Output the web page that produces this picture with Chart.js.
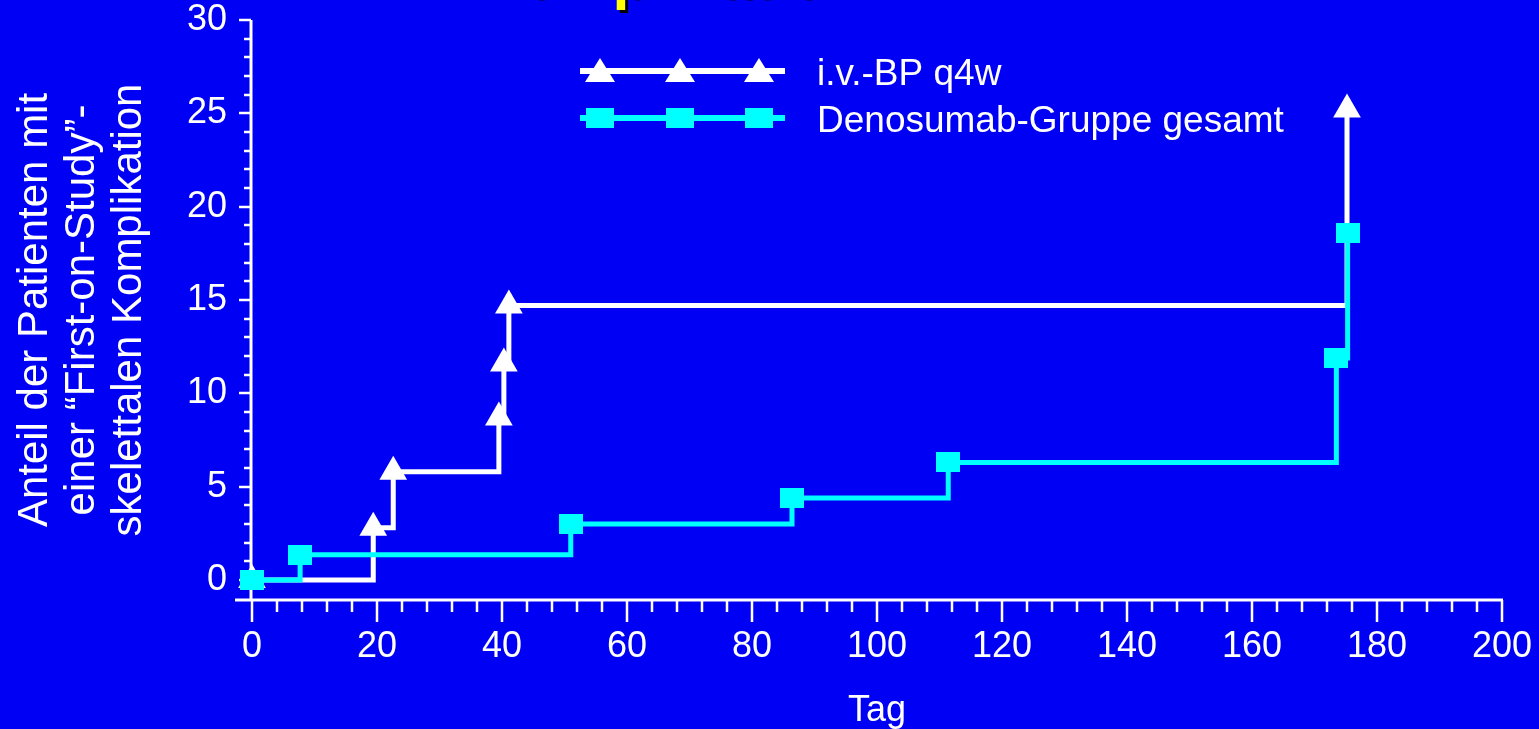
<!DOCTYPE html>
<html lang="de">
<head>
<meta charset="UTF-8">
<title>Zeit bis zur ersten skelettalen Komplikation</title>
<script src="https://cdn.jsdelivr.net/npm/chart.js@4.4.1/dist/chart.umd.min.js"></script>
<style>
  html, body { margin: 0; padding: 0; background: #0000f5; }
  #wrap { width: 1539px; height: 729px; position: relative; }
</style>
</head>
<body>
<div id="wrap"><canvas id="kmChart"></canvas></div>
<script>
// Werte (Tag / Anteil in %)
const seriesLabels = ['i.v.-BP q4w', 'Denosumab-Gruppe gesamt'];
const tageBP = [0, 19.4, 22.6, 39.5, 40.3, 41.1, 175.2];
const anteilBP = [0, 2.8, 5.8, 8.7, 11.6, 14.7, 25.2];
const tageDmab = [0, 7.7, 51.0, 86.4, 111.4, 173.5, 175.3];
const anteilDmab = [0, 1.35, 3.0, 4.4, 6.3, 11.9, 18.6];
const xTicks = [0, 20, 40, 60, 80, 100, 120, 140, 160, 180, 200];
const yTicks = [0, 5, 10, 15, 20, 25, 30];
const titleText = 'Komplikation';
const yTitle = ['Anteil der Patienten mit', 'einer \u201cFirst-on-Study\u201d-', 'skelettalen Komplikation'];
const xTitle = 'Tag';

const BLUE = '#0000f5';
const WHITE = '#ffffff';
const CYAN = '#00ffff';
const FONT = 'Arial, "Liberation Sans", sans-serif';

// square marker, a bit wider than high like in the slide
function squareMarker(w, h) {
  const c = document.createElement('canvas');
  c.width = w; c.height = h;
  const g = c.getContext('2d');
  g.fillStyle = CYAN;
  g.fillRect(0, 0, w, h);
  return c;
}
const sq = squareMarker(24, 20);

const toPoints = (xs, ys) => xs.map((x, i) => ({ x: x, y: ys[i] }));

// axes with major/minor ticks, legend and the cut-off slide title
const decoPlugin = {
  id: 'deco',
  beforeDraw(chart) {
    const ctx = chart.ctx;
    ctx.save();
    ctx.fillStyle = BLUE;
    ctx.fillRect(0, 0, chart.width, chart.height);
    ctx.restore();
  },
  beforeDatasetsDraw(chart) {
    const { ctx, scales: { x, y } } = chart;
    const ax = x.getPixelForValue(0) - 1;
    const ab = y.getPixelForValue(y.min);
    ctx.save();
    ctx.strokeStyle = WHITE;
    ctx.lineWidth = 3;
    ctx.beginPath();
    ctx.moveTo(ax, y.getPixelForValue(30));
    ctx.lineTo(ax, ab);
    ctx.moveTo(ax - 16, ab);
    ctx.lineTo(x.getPixelForValue(200) + 1, ab);
    ctx.stroke();
    ctx.lineWidth = 2.5;
    ctx.beginPath();
    for (let v = 0; v <= 30; v++) {
      const py = Math.round(y.getPixelForValue(v));
      const len = v % 5 === 0 ? 12 : 7;
      ctx.moveTo(ax - len, py);
      ctx.lineTo(ax, py);
    }
    for (let v = 0; v <= 200; v += 4) {
      const px = Math.round(x.getPixelForValue(v));
      const len = v % 20 === 0 ? 22 : 12;
      ctx.moveTo(px, ab);
      ctx.lineTo(px, ab + len);
    }
    ctx.stroke();
    ctx.restore();
  },
  afterDraw(chart) {
    const ctx = chart.ctx;
    ctx.save();
    // legend
    const rows = [
      { ds: chart.data.datasets[1], y: 71 },
      { ds: chart.data.datasets[0], y: 118 }
    ];
    rows.forEach(r => {
      ctx.strokeStyle = r.ds.borderColor;
      ctx.lineWidth = 6;
      ctx.beginPath();
      ctx.moveTo(580, r.y);
      ctx.lineTo(785, r.y);
      ctx.stroke();
      [600, 680, 759].forEach(mx => {
        ctx.fillStyle = r.ds.borderColor;
        if (r.ds.pointStyle === 'triangle') {
          ctx.beginPath();
          ctx.moveTo(mx, r.y - 13);
          ctx.lineTo(mx + 15, r.y + 11);
          ctx.lineTo(mx - 15, r.y + 11);
          ctx.closePath();
          ctx.fill();
        } else {
          ctx.fillRect(mx - 14, r.y - 10, 28, 20);
        }
      });
      ctx.fillStyle = WHITE;
      ctx.font = '37px ' + FONT;
      ctx.textAlign = 'left';
      ctx.textBaseline = 'alphabetic';
      ctx.fillText(r.ds.label, 817, r.y + 14);
    });
    // slide title, mostly outside the picture
    ctx.font = 'bold 61px ' + FONT;
    ctx.textAlign = 'left';
    ctx.textBaseline = 'alphabetic';
    ctx.fillStyle = '#000000';
    ctx.fillText(titleText, 480, 0);
    ctx.fillStyle = '#ffff00';
    ctx.fillText(titleText, 477, -3);
    ctx.restore();
  }
};

const chart = new Chart(document.getElementById('kmChart'), {
  type: 'line',
  data: {
    datasets: [
      {
        label: seriesLabels[1],
        data: toPoints(tageDmab, anteilDmab),
        borderColor: CYAN,
        backgroundColor: CYAN,
        borderWidth: 5,
        stepped: true,
        pointStyle: sq,
        clip: false,
        order: 0
      },
      {
        label: seriesLabels[0],
        data: toPoints(tageBP, anteilBP),
        borderColor: WHITE,
        backgroundColor: WHITE,
        borderWidth: 5,
        stepped: true,
        pointStyle: 'triangle',
        pointRadius: 16,
        pointBorderWidth: 0,
        clip: false,
        order: 1
      }
    ]
  },
  options: {
    responsive: true,
    maintainAspectRatio: false,
    animation: false,
    layout: { padding: { top: 20, right: 37, left: 0, bottom: 0 } },
    plugins: {
      legend: { display: false },
      tooltip: { enabled: false }
    },
    scales: {
      x: {
        type: 'linear',
        min: 0,
        max: 200,
        afterBuildTicks: s => { s.ticks = xTicks.map(v => ({ value: v })); },
        afterFit: s => { s.height = 129; s.paddingLeft = 0; s.paddingRight = 0; },
        grid: { display: false },
        border: { display: false },
        ticks: { color: WHITE, font: { family: FONT, size: 36 }, padding: 17, maxRotation: 0, autoSkip: false },
        title: { display: true, text: xTitle, color: WHITE, font: { family: FONT, size: 36, lineHeight: 1.0 }, padding: { top: 0, bottom: 0 } }
      },
      y: {
        type: 'linear',
        min: -1.07,
        max: 30,
        afterBuildTicks: s => { s.ticks = yTicks.map(v => ({ value: v })); },
        afterFit: s => { s.width = 252; s.paddingTop = 0; s.paddingBottom = 0; },
        grid: { display: false },
        border: { display: false },
        ticks: { color: WHITE, font: { family: FONT, size: 36 }, padding: 17, autoSkip: false },
        title: { display: true, text: yTitle, color: WHITE, font: { family: FONT, size: 42, lineHeight: 1.12 }, padding: { top: 12, bottom: 0 } }
      }
    }
  },
  plugins: [decoPlugin]
});
</script>
</body>
</html>
